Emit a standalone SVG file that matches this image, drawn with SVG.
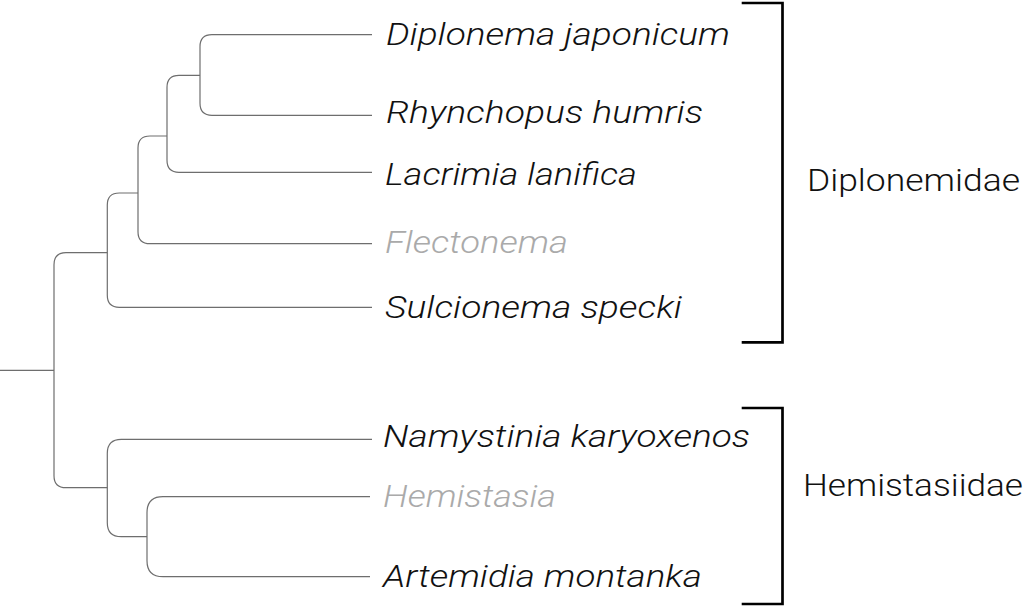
<svg xmlns="http://www.w3.org/2000/svg" width="1024" height="606" viewBox="0 0 1024 606">
<style>
.br{fill:none;stroke:#6e6e6e;stroke-width:1.2}
.bk{fill:none;stroke:#000;stroke-width:2.7}
.sp{font-family:"Roboto","Liberation Sans",sans-serif;font-weight:300;font-style:italic;font-size:31px;fill:#111}
.gr{fill:#aaaaaa}
.fam{font-family:"Roboto","Liberation Sans",sans-serif;font-weight:300;font-size:32px;fill:#111}
</style>
<rect width="1024" height="606" fill="#fff"/>
<g id="connectors">
<path class="br" d="M372,34.7 H212 Q200,34.7 200,46.7 V103.3 Q200,115.3 212,115.3 H372"/>
<path class="br" d="M200,75.3 H179 Q167,75.3 167,87.3 V160.3 Q167,172.3 179,172.3 H372"/>
<path class="br" d="M167,136 H150 Q138,136 138,148 V231.7 Q138,243.7 150,243.7 H372"/>
<path class="br" d="M138,193 H119.3 Q107.3,193 107.3,205 V295.3 Q107.3,307.3 119.3,307.3 H372"/>
<path class="br" d="M107.3,252.7 H66 Q54,252.7 54,264.7 V475.7 Q54,487.7 66,487.7 H107.3"/>
<path class="br" d="M0,370.3 H54"/>
<path class="br" d="M372,439.3 H121.3 Q107.3,439.3 107.3,453.3 V522.7 Q107.3,536.7 121.3,536.7 H147"/>
<path class="br" d="M370,496.7 H163 Q147,496.7 147,512.7 V560.7 Q147,576.7 163,576.7 H370"/>
</g>
<g id="leaf-diplonema"><text class="sp" x="386" y="45" textLength="344" lengthAdjust="spacingAndGlyphs">Diplonema japonicum</text></g>
<g id="leaf-rhynchopus"><text class="sp" x="386" y="123.3" textLength="317" lengthAdjust="spacingAndGlyphs">Rhynchopus humris</text></g>
<g id="leaf-lacrimia"><text class="sp" x="385" y="185" textLength="252" lengthAdjust="spacingAndGlyphs">Lacrimia lanifica</text></g>
<g id="leaf-flectonema"><text class="sp gr" x="385" y="253.3" textLength="183" lengthAdjust="spacingAndGlyphs">Flectonema</text></g>
<g id="leaf-sulcionema"><text class="sp" x="385" y="318.3" textLength="297" lengthAdjust="spacingAndGlyphs">Sulcionema specki</text></g>
<g id="leaf-namystinia"><text class="sp" x="383" y="446.7" textLength="367" lengthAdjust="spacingAndGlyphs">Namystinia karyoxenos</text></g>
<g id="leaf-hemistasia"><text class="sp gr" x="383" y="507.3" textLength="173" lengthAdjust="spacingAndGlyphs">Hemistasia</text></g>
<g id="leaf-artemidia"><text class="sp" x="383" y="586.7" textLength="319" lengthAdjust="spacingAndGlyphs">Artemidia montanka</text></g>
<g id="clade-diplonemidae">
<polyline class="bk" points="741.7,3 782.5,3 782.5,342.3 741.7,342.3"/>
<text class="fam" x="807" y="191" textLength="213" lengthAdjust="spacingAndGlyphs">Diplonemidae</text>
</g>
<g id="clade-hemistasiidae">
<polyline class="bk" points="741.7,408 782.5,408 782.5,604 741.7,604"/>
<text class="fam" x="803" y="495.5" textLength="220" lengthAdjust="spacingAndGlyphs">Hemistasiidae</text>
</g>
</svg>
